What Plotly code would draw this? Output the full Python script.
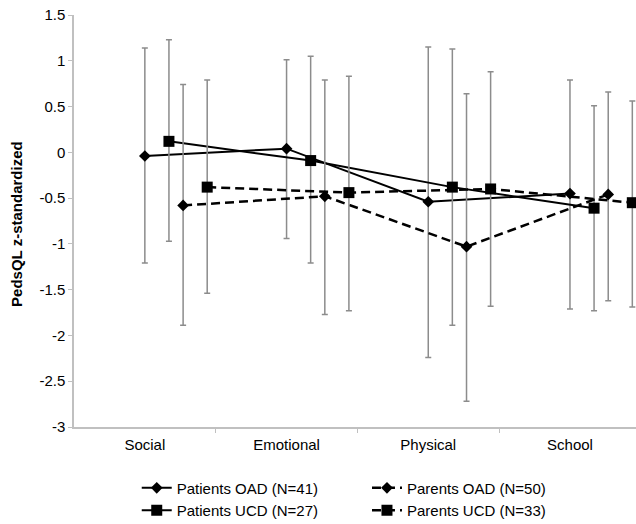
import plotly.graph_objects as go

categories = ["Social", "Emotional", "Physical", "School"]

series_names = ["Patients OAD (N=41)", "Patients UCD (N=27)", "Parents OAD (N=50)", "Parents UCD (N=33)"]

patients_oad = [-0.04, 0.04, -0.54, -0.45]
patients_oad_hi = [1.14, 1.01, 1.15, 0.79]
patients_oad_lo = [-1.21, -0.94, -2.24, -1.71]

patients_ucd = [0.12, -0.09, -0.38, -0.61]
patients_ucd_hi = [1.23, 1.05, 1.13, 0.51]
patients_ucd_lo = [-0.97, -1.21, -1.89, -1.73]

parents_oad = [-0.58, -0.48, -1.03, -0.46]
parents_oad_hi = [0.74, 0.79, 0.64, 0.66]
parents_oad_lo = [-1.89, -1.77, -2.72, -1.62]

parents_ucd = [-0.38, -0.44, -0.40, -0.55]
parents_ucd_hi = [0.79, 0.83, 0.88, 0.56]
parents_ucd_lo = [-1.54, -1.73, -1.68, -1.69]

y_ticks = [1.5, 1, 0.5, 0, -0.5, -1, -1.5, -2, -2.5, -3]
y_tick_labels = ["1.5", "1", "0.5", "0", "-0.5", "-1", "-1.5", "-2", "-2.5", "-3"]
y_title = "PedsQL z-standardized"

FONT = "Liberation Sans, Arial, sans-serif"
ERR_COLOR = "#8c8c8c"
AXIS_COLOR = "#c0c0c0"
X_RANGE = [0, 3.966]

specs = [
    (series_names[0], patients_oad, patients_oad_hi, patients_oad_lo, 0.0, "diamond", 9, "solid", 2, "legend"),
    (series_names[1], patients_ucd, patients_ucd_hi, patients_ucd_lo, 0.17, "square", 11, "solid", 2, "legend"),
    (series_names[2], parents_oad, parents_oad_hi, parents_oad_lo, 0.27, "diamond", 9, "9px,5px", 2.5, "legend2"),
    (series_names[3], parents_ucd, parents_ucd_hi, parents_ucd_lo, 0.44, "square", 11, "9px,5px", 2.5, "legend2"),
]

fig = go.Figure()
for name, vals, hi, lo, off, sym, size, dash, lw, leg in specs:
    xs = [i + 0.5 + off for i in range(len(categories))]
    fig.add_trace(go.Scatter(
        x=xs, y=vals, name=name, mode="lines+markers", legend=leg,
        line=dict(color="black", width=lw, dash=dash),
        marker=dict(symbol=sym, size=size, color="black"),
        error_y=dict(type="data", symmetric=False,
                     array=[h - v for h, v in zip(hi, vals)],
                     arrayminus=[v - l for l, v in zip(lo, vals)],
                     color=ERR_COLOR, thickness=1.5, width=3),
        cliponaxis=False,
    ))

fig.update_layout(
    width=636, height=524,
    margin=dict(l=74, r=0, t=15, b=97, pad=0, autoexpand=False),
    paper_bgcolor="white", plot_bgcolor="white",
    font=dict(family=FONT, size=15, color="black"),
    showlegend=True,
    legend=dict(xref="container", yref="container", x=0.215, y=0.1,
                xanchor="left", yanchor="top", orientation="v",
                font=dict(family=FONT, size=15, color="black"),
                itemwidth=30, bgcolor="rgba(0,0,0,0)", tracegroupgap=0),
    legend2=dict(xref="container", yref="container", x=0.577, y=0.1,
                 xanchor="left", yanchor="top", orientation="v",
                 font=dict(family=FONT, size=15, color="black"),
                 itemwidth=30, bgcolor="rgba(0,0,0,0)", tracegroupgap=0),
    xaxis=dict(
        range=X_RANGE, showgrid=False, zeroline=False, automargin=False,
        showline=True, linecolor=AXIS_COLOR, linewidth=1.5,
        tickmode="array", tickvals=[i + 0.5 for i in range(len(categories))],
        ticktext=categories, ticks="", ticklabelstandoff=3, tickangle=0,
        tickfont=dict(family=FONT, size=15, color="black"),
    ),
    xaxis2=dict(
        range=X_RANGE, overlaying="x", anchor="y", side="bottom",
        showgrid=False, zeroline=False, showline=False, showticklabels=False,
        tickmode="array", tickvals=[1, 2, 3], ticks="outside",
        ticklen=5, tickcolor=AXIS_COLOR, tickwidth=1,
    ),
    yaxis=dict(
        range=[-3, 1.5], showgrid=False, zeroline=False, automargin=False,
        showline=True, linecolor=AXIS_COLOR, linewidth=1.5,
        tickmode="array", tickvals=y_ticks, ticktext=y_tick_labels,
        ticks="outside", ticklen=4, tickcolor=AXIS_COLOR, tickwidth=1,
        tickfont=dict(family=FONT, size=15, color="black"),
    ),
    annotations=[dict(
        text="<b>" + y_title + "</b>", xref="paper", yref="paper",
        x=-0.1014, y=0.493, xanchor="center", yanchor="middle",
        textangle=-90, showarrow=False,
        font=dict(family=FONT, size=15, color="black"),
    )],
)

# invisible trace to activate the overlaying axis that carries the boundary ticks
fig.add_trace(go.Scatter(x=[X_RANGE[0]], y=[0], xaxis="x2", mode="markers",
                         marker=dict(opacity=0), showlegend=False, hoverinfo="skip"))

fig.write_html("out.html")
